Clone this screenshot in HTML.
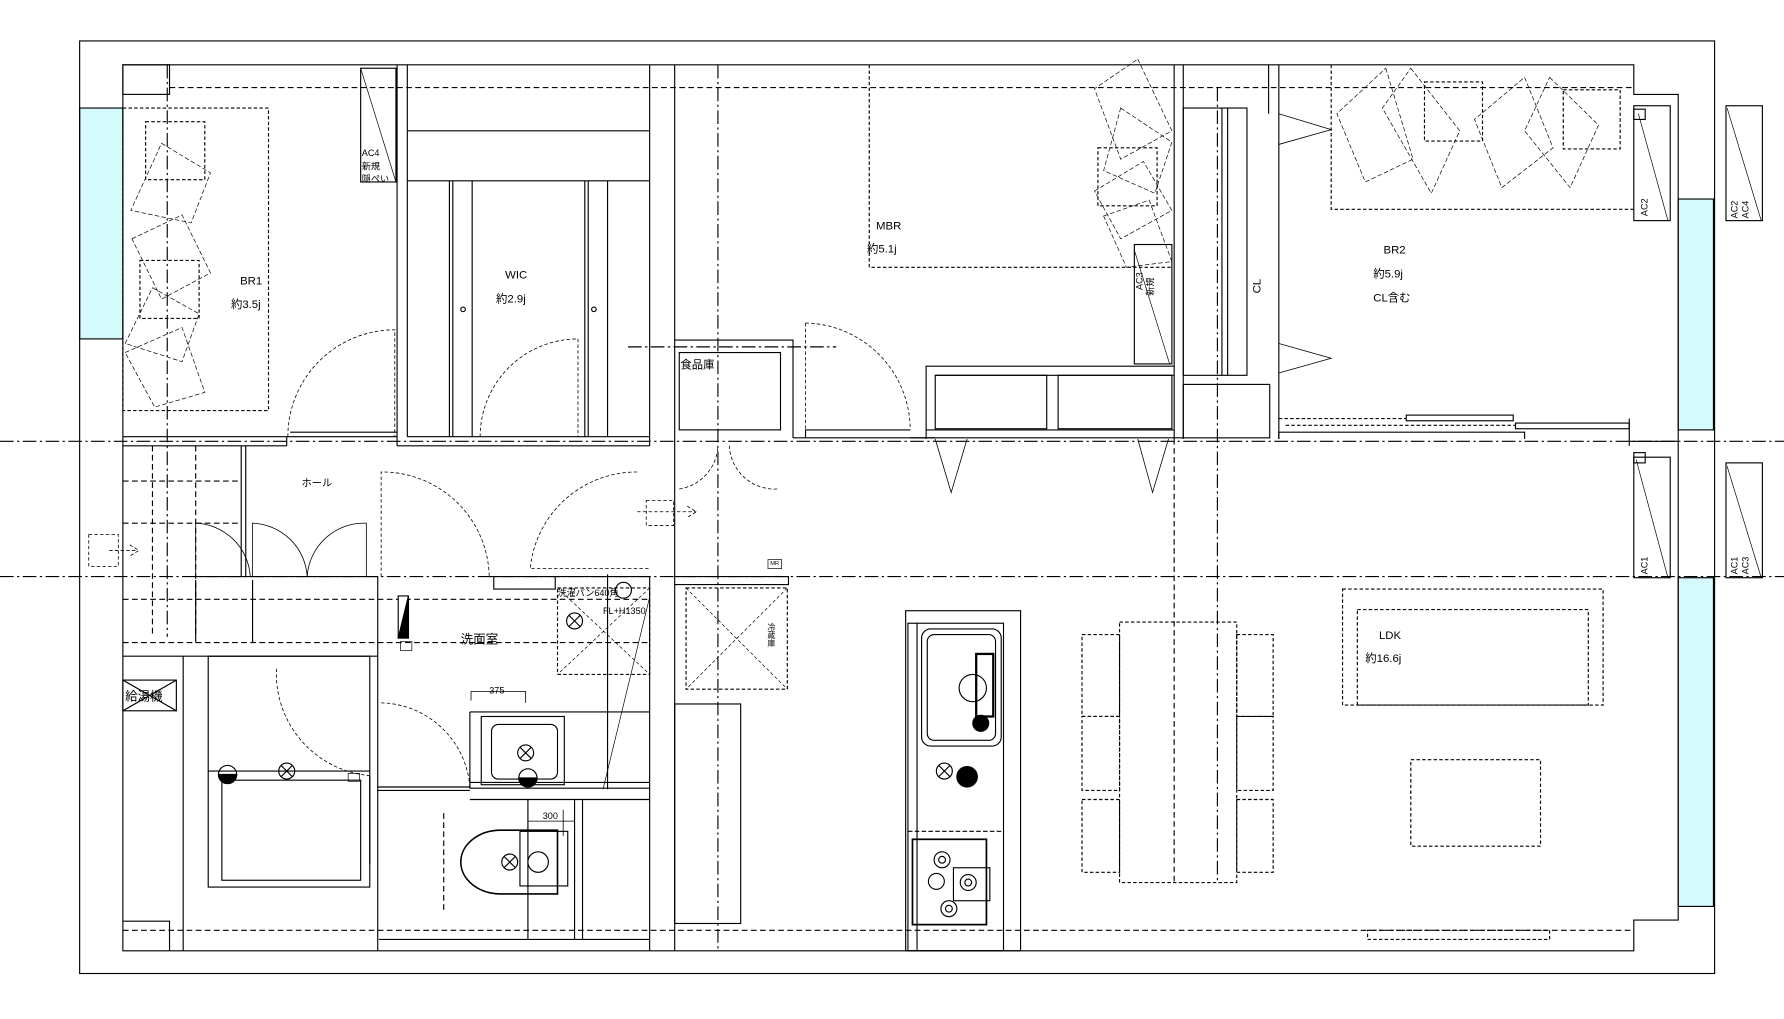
<!DOCTYPE html>
<html><head><meta charset="utf-8"><style>
html,body{margin:0;padding:0;background:#fff;}
svg{display:block;}
text{font-family:"Liberation Sans","Noto Sans CJK JP",sans-serif;font-size:10px;fill:#000;}
</style></head><body>
<svg width="1784" height="1019" viewBox="0 0 1568 896" preserveAspectRatio="none" xmlns="http://www.w3.org/2000/svg">
<g fill="none" stroke="#000" stroke-width="1">
<!-- cyan windows -->
<rect x="70" y="95" width="38" height="203" fill="#d4fafc"/>
<rect x="1475" y="175" width="31" height="203" fill="#d4fafc"/>
<rect x="1475" y="508" width="31" height="289" fill="#d4fafc"/>
<!-- outer -->
<rect x="70" y="36" width="1437" height="820"/>
<!-- inner boundary -->
<path d="M108 57 H1436 V83 H1475 V809 H1436 V836 H108 Z"/>
<rect x="108" y="57" width="41" height="26"/>
<!-- dash lines -->
<g stroke-dasharray="5,3">
<line x1="149" y1="77" x2="1436" y2="77"/>
<line x1="108" y1="818" x2="1436" y2="818"/>
<line x1="108" y1="527" x2="571" y2="527"/>
<line x1="108" y1="565" x2="571" y2="565"/>
<line x1="1032" y1="386" x2="1032" y2="776"/>
<line x1="134" y1="392" x2="134" y2="560"/>
<line x1="172" y1="392" x2="172" y2="560"/>
<line x1="108" y1="423" x2="212" y2="423"/>
<line x1="108" y1="460" x2="212" y2="460"/>
</g>
<g stroke-dasharray="12,3,2,3">
<line x1="0" y1="388" x2="1568" y2="388"/>
<line x1="0" y1="507" x2="1568" y2="507"/>
<line x1="147" y1="57" x2="147" y2="560"/>
<line x1="631" y1="57" x2="631" y2="836"/>
<line x1="1070" y1="77" x2="1070" y2="776"/>
<line x1="552" y1="305" x2="735" y2="305"/>
</g>
<!-- BR1 -->
<rect x="108" y="95" width="128" height="266" stroke-dasharray="3,2"/>
<rect x="128" y="107" width="52" height="51" stroke-dasharray="3,2"/>
<rect x="123" y="229" width="52" height="51" stroke-dasharray="3,2"/>
<g stroke-width="0.6" stroke-dasharray="4,2">
<path d="M142 126 L185 152 L168 196 L115 185 Z"/><path d="M116 210 L160 189 L185 240 L142 263 Z"/>
<path d="M134 253 L175 276 L160 318 L110 302 Z"/><path d="M110 310 L160 288 L180 345 L136 358 Z"/>
</g>
<rect x="317" y="60" width="31" height="100"/><line x1="317" y1="60" x2="348" y2="160" stroke-width="0.6"/>
<line x1="349" y1="57" x2="349" y2="392"/><line x1="358" y1="57" x2="358" y2="384"/>
<line x1="108" y1="384" x2="349" y2="384"/><line x1="108" y1="392" x2="252" y2="392"/>
<line x1="252" y1="384" x2="252" y2="392"/><line x1="255" y1="380" x2="349" y2="380"/>
<path d="M253 384 A94 94 0 0 1 347 290 V384" stroke-dasharray="3,2" stroke-width="0.7"/>
<!-- WIC -->
<line x1="571" y1="57" x2="571" y2="392"/><line x1="593" y1="57" x2="593" y2="836"/>
<line x1="358" y1="115" x2="571" y2="115"/><line x1="358" y1="159" x2="571" y2="159"/>
<line x1="358" y1="384" x2="571" y2="384"/><line x1="349" y1="392" x2="571" y2="392"/>
<line x1="395" y1="159" x2="395" y2="384"/><line x1="398" y1="159" x2="398" y2="384"/><line x1="415" y1="159" x2="415" y2="384"/>
<line x1="514" y1="159" x2="514" y2="384"/><line x1="517" y1="159" x2="517" y2="384"/><line x1="534" y1="159" x2="534" y2="384"/>
<circle cx="407" cy="272" r="2"/><circle cx="522" cy="272" r="2"/>
<path d="M422 384 A86 86 0 0 1 508 298 V384" stroke-dasharray="3,2" stroke-width="0.7"/>
<!-- pantry -->
<path d="M593 299 H697 V385"/><rect x="597" y="310" width="89" height="68"/>
<path d="M697 385 H708 V378 H800"/><line x1="708" y1="385" x2="822" y2="385"/>
<path d="M708 284 V378 M708 284 A94 94 0 0 1 800 378" stroke-dasharray="3,2" stroke-width="0.7"/>
<path d="M597 430 A40 40 0 0 0 631 392 M683 430 A40 40 0 0 1 641 392" stroke-dasharray="3,2" stroke-width="0.7"/>
<!-- MBR -->
<path d="M764 57 V235 H1030" stroke-dasharray="3,2"/>
<g stroke-width="0.6" stroke-dasharray="4,2">
<path d="M1000 52 L1030 115 L985 140 L962 78 Z"/><path d="M985 95 L1030 125 L1015 170 L970 150 Z"/>
<path d="M962 168 L1005 142 L1030 185 L985 210 Z"/><path d="M970 190 L1010 176 L1030 230 L990 235 Z"/>
</g>
<rect x="965" y="130" width="52" height="51" stroke-dasharray="3,2"/>
<rect x="997" y="215" width="33" height="105"/><line x1="997" y1="220" x2="1028" y2="320" stroke-width="0.6"/>
<line x1="1032" y1="57" x2="1032" y2="386"/><line x1="1040" y1="57" x2="1040" y2="386"/>
<!-- kitchen counter under MBR -->
<path d="M814 386 V322 H1032"/><line x1="822" y1="330" x2="1032" y2="330"/>
<rect x="822" y="330" width="98" height="47"/><rect x="930" y="330" width="100" height="47"/>
<line x1="814" y1="378" x2="1032" y2="378"/><line x1="800" y1="385" x2="1040" y2="385"/>
<path d="M822 386 L836 433 L850 386 M1000 386 L1013 433 L1027 386" stroke-width="0.7"/>
<!-- CL -->
<rect x="1040" y="95" width="56" height="235"/><line x1="1074" y1="95" x2="1074" y2="330"/><line x1="1079" y1="95" x2="1079" y2="330"/>
<rect x="1040" y="338" width="76" height="47"/>
<line x1="1124" y1="57" x2="1124" y2="386"/><line x1="1115" y1="57" x2="1115" y2="100"/>
<path d="M1124 100 L1170 114 L1124 127 M1124 302 L1170 315 L1124 328" stroke-width="0.7"/>
<!-- BR2 -->
<path d="M1170 57 V184 H1436" stroke-dasharray="3,2"/>
<g stroke-width="0.6" stroke-dasharray="4,2">
<path d="M1218 60 L1242 140 L1200 160 L1175 100 Z"/><path d="M1240 60 L1283 115 L1258 170 L1215 95 Z"/>
<path d="M1340 68 L1365 130 L1320 165 L1296 105 Z"/><path d="M1362 68 L1405 110 L1380 165 L1340 115 Z"/>
</g>
<rect x="1252" y="72" width="51" height="52" stroke-dasharray="3,2"/>
<rect x="1374" y="79" width="50" height="52" stroke-dasharray="3,2"/>
<rect x="1436" y="93" width="32" height="101"/><line x1="1440" y1="100" x2="1466" y2="194" stroke-width="0.6"/>
<rect x="1517" y="93" width="32" height="101"/><line x1="1518" y1="95" x2="1548" y2="194" stroke-width="0.6"/>
<rect x="1436" y="402" width="32" height="106"/><line x1="1438" y1="404" x2="1466" y2="508" stroke-width="0.6"/>
<rect x="1517" y="407" width="32" height="101"/><line x1="1518" y1="410" x2="1548" y2="508" stroke-width="0.6"/>
<rect x="1436" y="96" width="10" height="9"/><rect x="1436" y="398" width="10" height="9"/>
<rect x="1236" y="365" width="94" height="5"/><rect x="1332" y="372" width="100" height="5"/>
<line x1="1124" y1="368" x2="1236" y2="368" stroke-dasharray="3,2"/><line x1="1130" y1="374" x2="1332" y2="374" stroke-dasharray="3,2"/>
<path d="M1124 386 V380 H1340 V386 M1432 368 V392 M1432 388 H1475"/>
<!-- hall -->
<line x1="212" y1="392" x2="212" y2="507"/><line x1="216" y1="392" x2="216" y2="507"/>
<path d="M172 507 V460 A50 50 0 0 1 220 507 M222 507 V460 A50 50 0 0 1 270 507 A50 50 0 0 1 322 460 V507" stroke-width="0.7"/>
<path d="M172 507 H332 V577 H108 M172 510 V565 M222 510 V565"/>
<path d="M335 507 V415 A94 94 0 0 1 430 507" stroke-dasharray="3,2" stroke-width="0.7"/>
<path d="M560 415 A94 94 0 0 0 466 500 H571" stroke-dasharray="3,2" stroke-width="0.7"/>
<path d="M430 507 H571 M434 507 V518 H488 V507"/>
<path d="M78 470 H104 V498 H78 Z M96 484 H120 M114 479 L122 484 L114 489" stroke-dasharray="3,2" stroke-width="0.7"/>
<path d="M568 440 H592 V462 H568 Z M560 450 H612 M604 445 L612 450 L604 455" stroke-dasharray="3,2" stroke-width="0.7"/>
<!-- washroom -->
<rect x="350" y="524" width="9" height="37" fill="#fff"/><path d="M350 561 L359 524 V561 Z" fill="#000"/>
<rect x="352" y="564" width="10" height="8" stroke-width="0.6"/>
<rect x="490" y="517" width="81" height="76" stroke-dasharray="3,2"/>
<path d="M490 517 L571 593 M571 517 L490 593" stroke-dasharray="3,2" stroke-width="0.6"/>
<circle cx="505" cy="546" r="7"/><path d="M500 541 L510 551 M510 541 L500 551"/>
<circle cx="548" cy="519" r="7"/>
<path d="M571 525 L530 694" stroke-width="0.6"/><line x1="534" y1="505" x2="534" y2="694"/>
<rect x="108" y="598" width="47" height="27"/><path d="M108 598 L155 625 M155 598 L108 625"/>
<line x1="161" y1="577" x2="161" y2="836"/><rect x="108" y="577" width="53" height="0"/>
<path d="M108 810 H149 V836"/>
<rect x="183" y="577" width="142" height="203"/><rect x="195" y="686" width="122" height="88"/>
<line x1="183" y1="678" x2="325" y2="678"/>
<circle cx="200" cy="681" r="8"/><path d="M192 681 A8 8 0 0 0 208 681 Z" fill="#000"/>
<circle cx="252" cy="678" r="7"/><path d="M247 673 L257 683 M257 673 L247 683"/>
<rect x="306" y="680" width="10" height="7" stroke-width="0.6"/>
<path d="M243 588 A90 90 0 0 0 325 682" stroke-dasharray="3,2" stroke-width="0.7"/>
<path d="M325 682 V760 M332 577 V836 M332 695 H413 M332 692 H413"/>
<path d="M335 618 A80 80 0 0 1 413 692" stroke-dasharray="3,2" stroke-width="0.7"/>
<!-- basin -->
<path d="M413 626 H571 M413 626 V693 H571 M413 703 H571 M413 688 H571"/>
<rect x="423" y="630" width="73" height="60"/><rect x="432" y="637" width="58" height="48" rx="6"/>
<circle cx="462" cy="662" r="7"/><path d="M457 657 L467 667 M467 657 L457 667"/>
<circle cx="464" cy="684" r="8"/><path d="M456 684 A8 8 0 0 0 472 684 Z" fill="#000"/>
<path d="M414 616 V608 H462 V618" stroke-width="0.7"/>
<!-- toilet -->
<path d="M464 703 V826 M505 703 V826 M512 703 V826 M333 826 H571"/>
<path d="M490 730 H440 A35 28 0 0 0 440 786 H490 Z" stroke-width="1.4"/>
<rect x="457" y="731" width="42" height="48"/>
<circle cx="448" cy="758" r="7"/><path d="M443 753 L453 763 M453 753 L443 763"/>
<circle cx="473" cy="758" r="9"/>
<path d="M464 722 H505 M495 712 V735" stroke-width="0.7"/>
<line x1="390" y1="715" x2="390" y2="800" stroke-dasharray="5,3"/>
<line x1="571" y1="507" x2="571" y2="836"/>
<!-- fridge / cabinet -->
<path d="M593 507 H693 V514 H593"/>
<rect x="603" y="517" width="89" height="89" stroke-dasharray="3,2"/>
<path d="M603 517 L692 606 M692 517 L603 606" stroke-dasharray="3,2" stroke-width="0.6"/>
<rect x="675" y="492" width="12" height="8" stroke-width="0.6"/>
<rect x="593" y="619" width="58" height="193"/>
<!-- kitchen -->
<rect x="796" y="537" width="101" height="299"/><rect x="798" y="548" width="84" height="288"/>
<line x1="806" y1="548" x2="806" y2="836"/>
<rect x="810" y="553" width="70" height="103" rx="8"/><rect x="815" y="558" width="60" height="93" rx="6"/>
<rect x="858" y="575" width="15" height="55" stroke-width="2"/>
<circle cx="855" cy="605" r="12"/><circle cx="862" cy="636" r="7" fill="#000"/>
<circle cx="830" cy="678" r="7"/><path d="M825 673 L835 683 M835 673 L825 683"/>
<circle cx="850" cy="683" r="9" fill="#000"/>
<line x1="798" y1="731" x2="882" y2="731" stroke-dasharray="4,2"/>
<rect x="802" y="738" width="65" height="75" stroke-width="1.5"/>
<circle cx="828" cy="756" r="7"/><circle cx="828" cy="756" r="3"/>
<circle cx="851" cy="776" r="7"/><circle cx="851" cy="776" r="3"/>
<circle cx="834" cy="799" r="7"/><circle cx="834" cy="799" r="3"/>
<circle cx="823" cy="775" r="7"/><rect x="838" y="763" width="32" height="29"/>
<!-- dining -->
<g stroke-dasharray="3,2">
<rect x="984" y="547" width="103" height="229"/>
<rect x="951" y="558" width="33" height="72"/><rect x="951" y="630" width="33" height="65"/><rect x="951" y="703" width="33" height="64"/>
<rect x="1087" y="558" width="32" height="72"/><rect x="1087" y="630" width="32" height="65"/><rect x="1087" y="703" width="32" height="64"/>
<rect x="1180" y="518" width="229" height="102"/><rect x="1193" y="536" width="203" height="84"/>
<rect x="1240" y="668" width="114" height="76"/>
<rect x="1202" y="818" width="160" height="8"/>
</g>
</g>
<!-- labels -->
<text x="211" y="250">BR1</text><text x="203" y="271">約3.5j</text>
<text x="444" y="245">WIC</text><text x="436" y="266">約2.9j</text>
<text x="770" y="202">MBR</text><text x="762" y="222">約5.1j</text>
<text x="1216" y="223">BR2</text><text x="1207" y="244">約5.9j</text><text x="1207" y="265">CL含む</text>
<text x="1212" y="562">LDK</text><text x="1200" y="582">約16.6j</text>
<text x="598" y="324">食品庫</text>
<text x="265" y="428" style="font-size:9px">ホール</text>
<text x="405" y="566" style="font-size:11px">洗面室</text>
<text x="490" y="524" style="font-size:8px">洗濯パン640角</text>
<text x="530" y="540" style="font-size:8px">FL+H1350</text>
<text x="430" y="610" style="font-size:8px">375</text>
<text x="477" y="720" style="font-size:8px">300</text>
<text x="110" y="616" style="font-size:11px">給湯機</text>
<text x="318" y="137" style="font-size:8px">AC4</text><text x="318" y="149" style="font-size:8px">新規</text><text x="318" y="160" style="font-size:8px">隠ぺい</text>
<text x="677" y="497" style="font-size:5px">MR</text>
<text transform="translate(1108,258) rotate(-90)">CL</text>
<text transform="translate(1448,190) rotate(-90)" style="font-size:8px">AC2</text>
<text transform="translate(1527,192) rotate(-90)" style="font-size:8px">AC2</text>
<text transform="translate(1537,192) rotate(-90)" style="font-size:8px">AC4</text>
<text transform="translate(1448,505) rotate(-90)" style="font-size:8px">AC1</text>
<text transform="translate(1527,505) rotate(-90)" style="font-size:8px">AC1</text>
<text transform="translate(1537,505) rotate(-90)" style="font-size:8px">AC3</text>
<text transform="translate(1004,255) rotate(-90)" style="font-size:8px">AC3</text>
<text transform="translate(1014,260) rotate(-90)" style="font-size:8px">新規</text>
<text x="678" y="548" style="font-size:7px" writing-mode="tb">冷蔵庫</text>
</svg>
</body></html>
